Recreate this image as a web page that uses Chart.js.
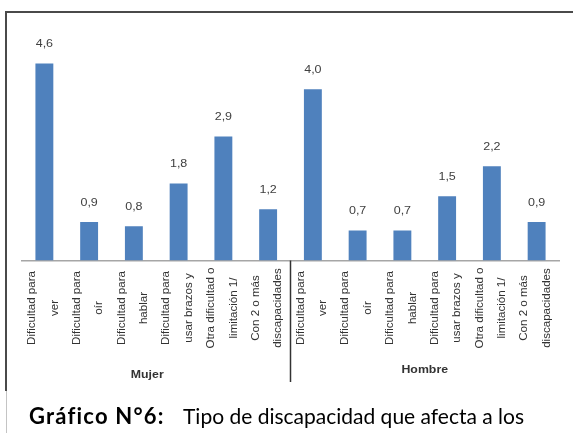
<!DOCTYPE html>
<html>
<head>
<meta charset="utf-8">
<script src="https://cdn.jsdelivr.net/npm/chart.js@4"></script>
<style>
  html, body { margin: 0; padding: 0; background: #fff; }
  #wrap { position: relative; width: 573px; height: 433px; overflow: hidden; }
  #chart { position: absolute; left: 0; top: 0; }
  .frame-top { position: absolute; left: 5px; top: 11px; width: 568px; height: 2px; background: #4a4a4a; }
  .frame-left { position: absolute; left: 5px; top: 11px; width: 2px; height: 380px; background: #4a4a4a; }
  .frame-left2 { position: absolute; left: 6px; top: 391px; width: 1px; height: 42px; background: #c4c4c4; }
  .cap { position: absolute; font-family: Lato, "Open Sans", sans-serif; color: #000; white-space: nowrap; }
  #cap1 { left: 29px; top: 404.5px; font-size: 22px; line-height: 22px; font-weight: bold; letter-spacing: 1.2px; }
  #cap2 { left: 183px; top: 405.4px; font-size: 21px; line-height: 21px; }
</style>
</head>
<body>
<div id="wrap">
  <canvas id="chart" width="573" height="433"></canvas>
  <div class="frame-top"></div>
  <div class="frame-left"></div>
  <div class="frame-left2"></div>
  <div class="cap" id="cap1">Gráfico N°6:</div>
  <div class="cap" id="cap2">Tipo de discapacidad que afecta a los</div>
</div>
<script>
const tipos = [
  ["Dificultad para", "ver"],
  ["Dificultad para", "oír"],
  ["Dificultad para", "hablar"],
  ["Dificultad para", "usar brazos y"],
  ["Otra dificultad o", "limitación 1/"],
  ["Con 2 o más", "discapacidades"]
];
const grupos = ["Mujer", "Hombre"];
const mujer = [4.6, 0.9, 0.8, 1.8, 2.9, 1.2];
const hombre = [4.0, 0.7, 0.7, 1.5, 2.2, 0.9];

const labels = tipos.concat(tipos);
const valores = mujer.concat(hombre);

// etiquetas del eje, valores y grupos dibujados a mano
const textos = {
  id: "textos",
  afterDatasetsDraw(chart) {
    const ctx = chart.ctx;
    const xs = chart.scales.x;
    const meta = chart.getDatasetMeta(0);
    ctx.save();
    ctx.fillStyle = "#404040";
    ctx.textAlign = "center";
    ctx.textBaseline = "middle";

    // valores sobre las barras
    ctx.font = "10px 'Liberation Sans', Arial, sans-serif";
    meta.data.forEach((bar, i) => {
      ctx.save();
      ctx.translate(bar.x, bar.y - 19);
      ctx.scale(1.25, 1);
      ctx.fillText(valores[i].toFixed(1).replace(".", ","), 0, 0);
      ctx.restore();
    });

    // categorías giradas
    ctx.fillStyle = "#333";
    ctx.font = "10.5px 'Liberation Sans', Arial, sans-serif";
    labels.forEach((lab, i) => {
      const x = xs.getPixelForValue(i);
      ctx.save();
      ctx.translate(x - 1, 308);
      ctx.rotate(-Math.PI / 2);
      ctx.scale(1.1, 1);
      lab.forEach((line, j) => {
        ctx.fillText(line, 0, (j - (lab.length - 1) / 2) * 22.5);
      });
      ctx.restore();
    });

    // separador entre grupos
    const n = tipos.length;
    const sepX = (xs.getPixelForValue(n - 1) + xs.getPixelForValue(n)) / 2;
    ctx.strokeStyle = "#333";
    ctx.lineWidth = 1.5;
    ctx.beginPath();
    ctx.moveTo(sepX, chart.chartArea.bottom);
    ctx.lineTo(sepX, 382);
    ctx.stroke();

    // nombres de grupo
    ctx.font = "bold 11px 'Liberation Sans', Arial, sans-serif";
    grupos.forEach((g, k) => {
      const cx = (xs.getPixelForValue(k * n) + xs.getPixelForValue(k * n + n - 1)) / 2;
      ctx.save();
      ctx.translate(k === 0 ? cx - 9 : cx, k === 0 ? 375 : 370);
      ctx.scale(1.12, 1);
      ctx.fillText(g, 0, 0);
      ctx.restore();
    });
    ctx.restore();
  }
};

new Chart(document.getElementById("chart"), {
  type: "bar",
  data: {
    labels: labels,
    datasets: [{
      data: valores,
      backgroundColor: "#4f81bd",
      borderWidth: 0,
      barPercentage: 0.4,
      categoryPercentage: 1
    }]
  },
  options: {
    responsive: false,
    devicePixelRatio: 1,
    animation: false,
    layout: { padding: { left: 22, right: 14, top: 46.5, bottom: 172.5 } },
    plugins: { legend: { display: false }, tooltip: { enabled: false } },
    scales: {
      x: {
        grid: { display: false, drawTicks: false },
        ticks: { display: false },
        border: { display: true, color: "#a6a6a6", width: 1.5 }
      },
      y: { display: false, min: 0, max: 5 }
    }
  },
  plugins: [textos]
});
</script>
</body>
</html>
